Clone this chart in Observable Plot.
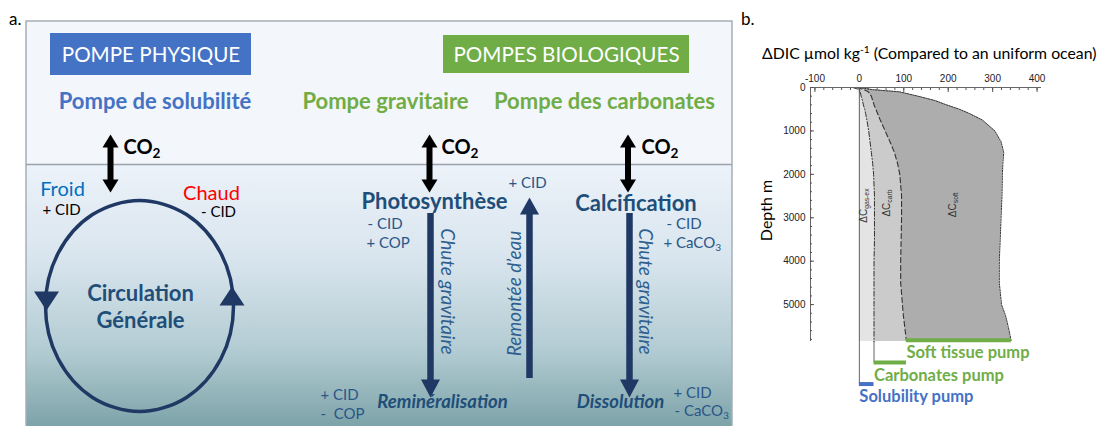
<!DOCTYPE html>
<html><head><meta charset="utf-8">
<script src="https://cdn.jsdelivr.net/npm/d3@7"></script>
<script src="https://cdn.jsdelivr.net/npm/@observablehq/plot@0.6"></script>
<style>
body{margin:0;background:#fff;}
#wrap{position:relative;width:1111px;height:426px;overflow:hidden;font-family:Lato,sans-serif;}
.abs{position:absolute;white-space:nowrap;}
sup{font-size:65%;vertical-align:0.55em;line-height:0;}
</style></head><body><div id="wrap"></div>
<script>
// ================= Panel b data (ΔDIC profile) =================
const depth = [0, 50, 100, 200, 300, 400, 500, 600, 750, 1000, 1250, 1500, 1750, 2000, 2500, 3000, 3500, 4000, 4500, 5000, 5250, 5500, 5850];
const gasEx = [-15, 0, 2, 4, 7, 9, 12, 14, 17, 21, 24, 27, 30, 32, 34, 34, 34, 33, 33, 33, 33, 33, 33];
const carb  = [-5, 10, 20, 27, 30, 33, 37, 41, 47, 58, 69, 79, 86, 91, 95, 95, 94, 93, 93, 97, 99, 102, 106];
const soft  = [0, 30, 90, 132, 170, 196, 225, 248, 277, 305, 319, 325, 323, 322, 321, 319, 317, 315, 315, 320, 329, 335, 342];
const xTicks = [-100, 0, 100, 200, 300, 400];
const yTicks = [0, 1000, 2000, 3000, 4000, 5000];
const areaNames = ["ΔC_gas-ex", "ΔC_carb", "ΔC_soft"];
const pumpNames = ["Soft tissue pump", "Carbonates pump", "Solubility pump"];
const pumpColors = ["#70ad47", "#70ad47", "#4472c4"];
const titleB = "ΔDIC µmol kg<sup>-1</sup> (Compared to an uniform ocean)";
const depthLabel = "Depth m";

// ================= Panel a content (schematic) =================
const headerLabels = ["POMPE PHYSIQUE", "POMPES BIOLOGIQUES"];
const headerColors = ["#4472c4", "#70ad47"];

// layout of schematic (diagram units = px of panel a)
const headerLayout = [{x1: 50, x2: 251, y1: 33, y2: 75}, {x1: 443, x2: 689, y1: 35, y2: 73}];
const frameBox = [{x1: 26, x2: 732, y1: 21, y2: 432}];
const airBox = [{x1: 26, x2: 732, y1: 21, y2: 164}];
const waterBox = [{x1: 26, x2: 732, y1: 164, y2: 432}];
const surfaceY = 164;

const S = {
  header:    {fill: "#ffffff", fontSize: 20.6, fontWeight: 400},
  pumpBlue:  {fill: "#4472c4", fontSize: 22, fontWeight: 700},
  pumpGreen: {fill: "#70ad47", fontSize: 22, fontWeight: 700},
  co2:       {fill: "#000000", fontSize: 20, fontWeight: 700},
  froid:     {fill: "#0070c0", fontSize: 20, fontWeight: 400},
  chaud:     {fill: "#ff0000", fontSize: 20, fontWeight: 400},
  black:     {fill: "#000000", fontSize: 15, fontWeight: 400},
  navyBold:  {fill: "#1f4e79", fontSize: 22, fontWeight: 700},
  navy:      {fill: "#2b5688", fontSize: 15, fontWeight: 400},
  rotItalic: {fill: "#2e5f8f", fontSize: 19, fontWeight: 400, fontStyle: "italic"},
  boldItalic:{fill: "#1f4e79", fontSize: 18.5, fontWeight: 700, fontStyle: "italic"}
};

const labelsA = [
  {t: headerLabels[0], x: 150.5, y: 54.5, s: "header"},
  {t: headerLabels[1], x: 566, y: 54.5, s: "header"},
  {t: "Pompe de solubilité", x: 154.5, y: 101, s: "pumpBlue"},
  {t: "Pompe gravitaire", x: 385, y: 101, s: "pumpGreen"},
  {t: "Pompe des carbonates", x: 604, y: 101, s: "pumpGreen"},
  {t: "CO_2", x: 123, y: 147, s: "co2", a: "start"},
  {t: "CO_2", x: 441, y: 147, s: "co2", a: "start"},
  {t: "CO_2", x: 641, y: 147, s: "co2", a: "start"},
  {t: "Froid", x: 62, y: 189.5, s: "froid"},
  {t: "Chaud", x: 211, y: 193, s: "chaud"},
  {t: "+ CID", x: 61, y: 209.5, s: "black"},
  {t: "- CID", x: 218, y: 212, s: "black"},
  {t: "Circulation", x: 140, y: 293, s: "navyBold"},
  {t: "Générale", x: 140, y: 320, s: "navyBold"},
  {t: "Photosynthèse", x: 434, y: 201.5, s: "navyBold"},
  {t: "Calcification", x: 635.5, y: 203, s: "navyBold"},
  {t: "- CID", x: 367, y: 224, s: "navy", a: "start"},
  {t: "+ COP", x: 366, y: 243, s: "navy", a: "start"},
  {t: "+ CID", x: 508, y: 183, s: "navy", a: "start"},
  {t: "- CID", x: 666, y: 224, s: "navy", a: "start"},
  {t: "+ CaCO_3", x: 663, y: 243, s: "navy", a: "start"},
  {t: "+ CID", x: 320, y: 395, s: "navy", a: "start"},
  {t: "-  COP", x: 320, y: 414, s: "navy", a: "start"},
  {t: "+ CID", x: 673, y: 393, s: "navy", a: "start"},
  {t: "- CaCO_3", x: 674, y: 411, s: "navy", a: "start"},
  {t: "Chute gravitaire", x: 446.5, y: 291, s: "rotItalic", r: 90},
  {t: "Remontée d’eau", x: 514, y: 293, s: "rotItalic", r: -90},
  {t: "Chute gravitaire", x: 645, y: 291, s: "rotItalic", r: 90},
  {t: "Reminéralisation", x: 442, y: 402, s: "boldItalic"},
  {t: "Dissolution", x: 620, y: 402, s: "boldItalic"}
];

// arrows: shafts and heads (tip positions)
const co2Shafts = [{x: 110, y1: 143, y2: 183}, {x: 429, y1: 143, y2: 183}, {x: 627.5, y1: 143, y2: 183}];
const co2HeadsUp = [{x: 110, y: 134}, {x: 429, y: 134}, {x: 627.5, y: 134}];
const co2HeadsDown = [{x: 110, y: 192}, {x: 429, y: 192}, {x: 627.5, y: 192}];
const navyShafts = [{x: 430, y1: 213, y2: 382}, {x: 529, y1: 209, y2: 378}, {x: 629, y1: 213, y2: 382}];
const navyHeadsDown = [{x: 430, y: 397}, {x: 629, y: 397}];
const navyHeadsUp = [{x: 529, y: 197}];
const loopPts = [[233,305.5],[220.4,358.3],[186,396.9],[139,411],[92,396.9],[57.6,358.3],[45,305.5],[57.6,252.8],[92,214.1],[139,200],[186,214.1],[220.4,252.8]];
const loopHeadDown = [{x: 46, y: 310}];
const loopHeadUp = [{x: 231.5, y: 286}];

const NAVY = "#1f3864";

// custom arrow-head symbols: tip at origin
function head(w, h, dir) {
  return {draw(ctx) {
    const s = dir === "up" ? 1 : -1;
    ctx.moveTo(0, 0);
    ctx.lineTo(w / 2, s * h);
    ctx.lineTo(-w / 2, s * h);
    ctx.closePath();
  }};
}

function textMarks(labels) {
  const groups = d3.groups(labels, d => `${d.s}|${d.a || "middle"}|${d.r || 0}`);
  return groups.map(([key, rows]) => {
    const [s, a, r] = key.split("|");
    return Plot.text(rows, {x: "x", y: "y", text: "t", textAnchor: a, lineAnchor: "middle", rotate: +r, ...S[s]});
  });
}

function applySubscripts(svg) {
  svg.querySelectorAll("text").forEach(t => {
    const targets = t.querySelectorAll("tspan").length ? [...t.querySelectorAll("tspan")] : [t];
    targets.forEach(n => {
      const s = n.textContent;
      const i = s.indexOf("_");
      if (i < 0) return;
      n.textContent = s.slice(0, i);
      const sub = document.createElementNS("http://www.w3.org/2000/svg", "tspan");
      sub.setAttribute("dy", "0.3em");
      sub.setAttribute("font-size", "68%");
      sub.textContent = s.slice(i + 1);
      n.appendChild(sub);
    });
  });
}

// ================= Panel a plot =================
const headers = headerLabels.map((t, i) => ({t, fill: headerColors[i], ...headerLayout[i]}));

const plotA = Plot.plot({
  width: 735, height: 426, margin: 0,
  x: {domain: [0, 735], range: [0, 735], axis: null},
  y: {domain: [0, 426], range: [0, 426], axis: null},
  color: {type: "identity"},
  style: {fontFamily: "Lato, sans-serif", background: "transparent"},
  marks: [
    Plot.rect(airBox, {x1: "x1", x2: "x2", y1: "y1", y2: "y2", fill: "#f3f6fa"}),
    Plot.rect(waterBox, {x1: "x1", x2: "x2", y1: "y1", y2: "y2", fill: "url(#waterGrad)"}),
    Plot.rect(frameBox, {x1: "x1", x2: "x2", y1: "y1", y2: "y2", fill: "none", stroke: "#a7aeb9", strokeWidth: 1.5}),
    Plot.ruleY([surfaceY], {x1: 26, x2: 732, stroke: "#9aa2ad", strokeWidth: 1.5}),
    Plot.rect(headers, {x1: "x1", x2: "x2", y1: "y1", y2: "y2", fill: "fill"}),
    // CO2 exchange arrows
    Plot.ruleX(co2Shafts, {x: "x", y1: "y1", y2: "y2", stroke: "#000", strokeWidth: 6}),
    Plot.dot(co2HeadsUp, {x: "x", y: "y", symbol: head(16, 13, "up"), r: 5, fill: "#000", stroke: "none"}),
    Plot.dot(co2HeadsDown, {x: "x", y: "y", symbol: head(16, 13, "down"), r: 5, fill: "#000", stroke: "none"}),
    // general circulation loop
    Plot.line(loopPts, {x: d => d[0], y: d => d[1], curve: "catmull-rom-closed", stroke: NAVY, strokeWidth: 3.5}),
    Plot.dot(loopHeadDown, {x: "x", y: "y", symbol: head(25, 19, "down"), r: 5, fill: NAVY, stroke: "none"}),
    Plot.dot(loopHeadUp, {x: "x", y: "y", symbol: head(25, 19, "up"), r: 5, fill: NAVY, stroke: "none"}),
    // vertical transport arrows
    Plot.ruleX(navyShafts, {x: "x", y1: "y1", y2: "y2", stroke: NAVY, strokeWidth: 6.5}),
    Plot.dot(navyHeadsDown, {x: "x", y: "y", symbol: head(19, 18, "down"), r: 5, fill: NAVY, stroke: "none"}),
    Plot.dot(navyHeadsUp, {x: "x", y: "y", symbol: head(19, 17, "up"), r: 5, fill: NAVY, stroke: "none"}),
    ...textMarks(labelsA)
  ]
});
const defs = document.createElementNS("http://www.w3.org/2000/svg", "defs");
defs.innerHTML = `<linearGradient id="waterGrad" x1="0" y1="0" x2="0" y2="1">
  <stop offset="0" stop-color="#ecf2f9"/><stop offset="0.35" stop-color="#d9e5ee"/>
  <stop offset="0.7" stop-color="#b2cbd2"/><stop offset="1" stop-color="#78a0a5"/></linearGradient>`;
plotA.insertBefore(defs, plotA.firstChild);
applySubscripts(plotA);

// ================= Panel b plot =================
const rows = depth.map((d, i) => ({depth: d, gasEx: gasEx[i], carb: carb[i], soft: soft[i]}));
const last = rows[rows.length - 1];
const barDepths = [5820, 6334, 6830]; // layout: vertical positions of the pump bars below the profile
const pumpBars = [
  {name: pumpNames[0], color: pumpColors[0], y: barDepths[0], x1: last.carb, x2: last.soft},
  {name: pumpNames[1], color: pumpColors[1], y: barDepths[1], x1: last.gasEx, x2: last.carb},
  {name: pumpNames[2], color: pumpColors[2], y: barDepths[2], x1: 0, x2: last.gasEx}
];
const areaLabels = [
  {t: areaNames[0], x: 10, y: 2720},
  {t: areaNames[1], x: 61, y: 2660},
  {t: areaNames[2], x: 211, y: 2700}
];
const minorX = d3.range(-100, 401, 20);
const minorY = d3.range(0, 5801, 200);
const axisFont = {fontFamily: "Liberation Sans, Arial, sans-serif", fontSize: 10, fill: "#222"};

const plotB = Plot.plot({
  width: 371, height: 426,
  marginLeft: 70, marginRight: 70, marginTop: 87, marginBottom: 85,
  x: {domain: [-110, 410]},
  y: {domain: [0, 5850], reverse: true},
  style: {fontFamily: "Lato, sans-serif", background: "transparent", overflow: "visible"},
  marks: [
    Plot.areaX(rows, {y: "depth", x1: () => 0, x2: "gasEx", fill: "#e4e4e4"}),
    Plot.areaX(rows, {y: "depth", x1: "gasEx", x2: "carb", fill: "#cbcbcb"}),
    Plot.areaX(rows, {y: "depth", x1: "carb", x2: "soft", fill: "#adadad"}),
    Plot.ruleX([0], {y1: 0, y2: barDepths[2], stroke: "#555", strokeWidth: 0.9}),
    Plot.ruleX([last.gasEx], {y1: last.depth, y2: barDepths[1], stroke: "#555", strokeWidth: 0.9}),
    Plot.lineX(rows, {x: "gasEx", y: "depth", stroke: "#333", strokeWidth: 1, strokeDasharray: "5,2,1,2"}),
    Plot.lineX(rows, {x: "carb", y: "depth", stroke: "#333", strokeWidth: 1.1, strokeDasharray: "5,3"}),
    Plot.lineX(rows, {x: "soft", y: "depth", stroke: "#333", strokeWidth: 1, strokeDasharray: "1.5,1.2"}),
    Plot.ruleY([0], {stroke: "#666", strokeWidth: 1}),
    Plot.ruleX([-110], {stroke: "#666", strokeWidth: 1}),
    Plot.axisX(xTicks, {anchor: "top", tickSize: -4, tickPadding: 10, label: null, stroke: "#555", tickFormat: d => String(d), ...axisFont}),
    Plot.axisX(minorX, {anchor: "top", tickSize: -2, tickFormat: () => "", label: null, stroke: "#555"}),
    Plot.axisY(yTicks, {anchor: "left", tickSize: -4, tickPadding: 9, label: null, stroke: "#555", tickFormat: d => String(d), ...axisFont}),
    Plot.axisY(minorY, {anchor: "left", tickSize: -2, tickFormat: () => "", label: null, stroke: "#555"}),
    Plot.ruleY(pumpBars, {y: "y", x1: "x1", x2: "x2", stroke: "color", strokeWidth: 4}),
    Plot.text(pumpBars, {x: "x1", y: "y", text: "name", fill: "color", textAnchor: "start", lineAnchor: "middle", dy: 13, dx: 0, fontSize: 16.5, fontWeight: 700}),
    Plot.text(areaLabels, {x: "x", y: "y", text: "t", rotate: -90, fill: "#333", fontSize: 10, fontFamily: "Liberation Sans, Arial, sans-serif", textAnchor: "middle", lineAnchor: "middle"}),
    Plot.text([depthLabel], {text: d => d, frameAnchor: "left", textAnchor: "middle", lineAnchor: "middle", rotate: -90, dx: -44, dy: -4, fontSize: 16, fill: "#000"})
  ]
});
applySubscripts(plotB);

// ================= Assemble =================
const wrap = document.getElementById("wrap");
plotA.style.position = "absolute"; plotA.style.left = "0px"; plotA.style.top = "0px";
plotB.style.position = "absolute"; plotB.style.left = "740px"; plotB.style.top = "0px";
wrap.appendChild(plotA);
wrap.appendChild(plotB);
function addDiv(html, left, top, css) {
  const d = document.createElement("div");
  d.className = "abs"; d.innerHTML = html;
  d.style.left = left + "px"; d.style.top = top + "px";
  d.style.cssText += css;
  wrap.appendChild(d);
}
addDiv("a.", 9, 8, "font-size:17px;color:#000;");
addDiv("b.", 741, 8, "font-size:17px;color:#000;");
addDiv(titleB, 762, 43, "font-size:15.8px;color:#000;");
</script></body></html>
